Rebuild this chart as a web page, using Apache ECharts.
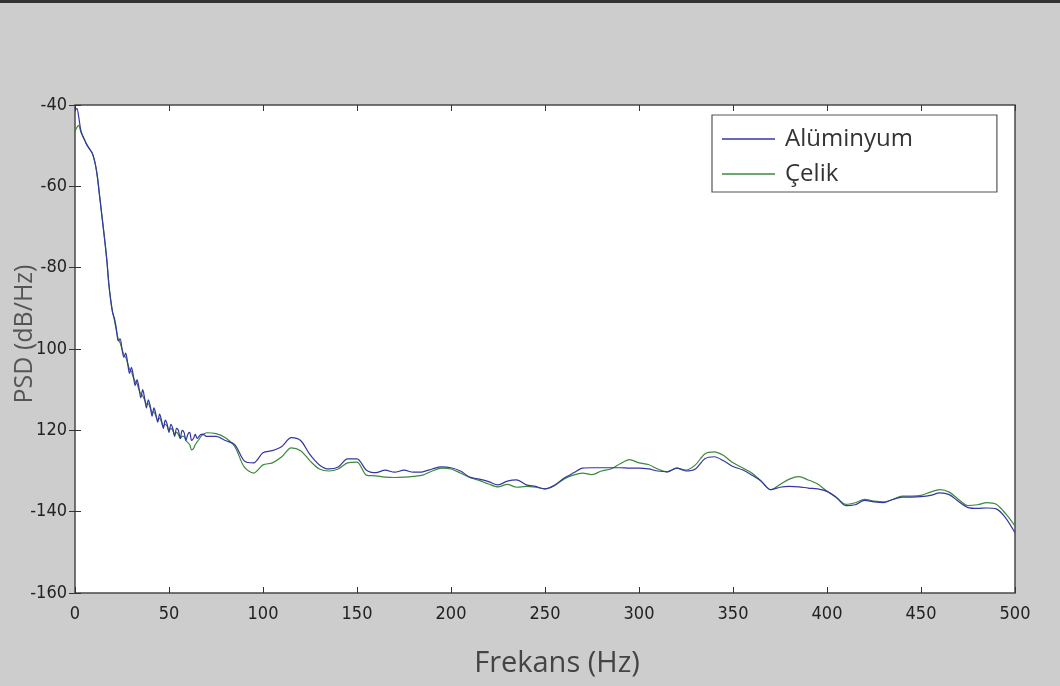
<!DOCTYPE html>
<html><head><meta charset="utf-8">
<script src="https://cdn.jsdelivr.net/npm/echarts@6/dist/echarts.min.js"></script>
<style>html,body{margin:0;padding:0;background:#cdcdcd}#c{width:1060px;height:686px}</style>
</head><body><div id="c"></div>
<script>
const freq = [0,1,2,3,4,5,6,7,8,9,10,11,12,13,14,15,16,17,18,19,20,21,22,23,24,25,26,27,28,29,30,31,32,33,34,35,36,37,38,39,40,41,42,43,44,45,46,47,48,49,50,51,52,53,54,55,56,57,58,59,60,61,62,63,64,65,66,67,68,69,
70,75,80,85,90,95,100,105,110,115,120,125,130,135,140,145,150,155,160,165,170,175,180,185,190,195,200,205,210,215,220,225,230,235,240,245,250,255,260,265,270,275,280,285,290,295,300,305,310,315,320,325,330,335,340,345,350,355,360,365,370,375,380,385,390,395,400,405,410,415,420,425,430,435,440,445,450,455,460,465,470,475,480,485,490,495,500];
const aluminyum = [-41.5,-40.8,-43,-46,-47.5,-48.5,-49.5,-50.3,-51,-51.7,-53,-55,-58,-62,-66,-70,-74,-78.5,-84,-88,-91,-92.5,-95,-98,-97.5,-100,-102,-101,-103.5,-106,-104.5,-106.5,-109,-107.5,-109.5,-112,-110,-112,-114.5,-112.5,-114,-116.5,-114.5,-116,-118,-116,-117.5,-119.5,-117.5,-118.5,-120.5,-118.5,-119.5,-121.5,-119.5,-120,-122,-120,-120.5,-122.5,-121,-120.5,-122.5,-122,-121,-122,-121.5,-121,-121,-121.2,
-121.5,-121.5,-122.5,-123.5,-127.5,-128,-125.5,-125,-124,-121.8,-122.5,-126,-128.5,-129.5,-129,-127,-127,-129.8,-130.4,-129.8,-130.3,-129.8,-130.3,-130.2,-129.5,-129,-129.2,-130,-131.5,-132,-132.6,-133.4,-132.5,-132.2,-133.4,-133.8,-134.4,-133.5,-131.8,-130.5,-129.3,-129.2,-129.2,-129.2,-129.2,-129.3,-129.3,-129.5,-130,-130.2,-129.3,-130,-129.5,-127,-126.5,-127.5,-128.9,-129.7,-131,-132.5,-134.6,-134,-133.8,-133.9,-134.2,-134.4,-135,-136.5,-138.5,-138.3,-137.2,-137.6,-137.8,-137,-136.4,-136.4,-136.3,-136,-135.4,-135.8,-137.5,-139,-139.2,-139.1,-139.3,-141.5,-145.2];
const celik = [-46.5,-45.5,-45,-46.5,-47.5,-48.5,-49.5,-50.3,-51,-51.7,-53,-55,-58,-62,-66,-70,-74,-78.5,-84,-88,-91,-93,-95.5,-97.5,-98.5,-100,-101.5,-102,-103.5,-105,-105.5,-107,-108,-108.5,-110,-111,-111.5,-112.5,-113.5,-113.5,-114.5,-115.5,-115.5,-116.5,-117.5,-117,-118,-119,-118.5,-119,-120,-119.5,-120,-121,-120.5,-121,-122,-121.5,-121.5,-122.5,-123,-123.5,-124.8,-124.5,-123.5,-122.8,-122.2,-121.5,-121,-120.8,
-120.6,-120.8,-121.8,-124,-129,-130.5,-128.5,-128,-126.5,-124.3,-125,-127.5,-129.5,-130,-129.5,-128,-127.8,-131,-131.2,-131.5,-131.6,-131.5,-131.3,-131,-130,-129.3,-129.5,-130.5,-131.6,-132.3,-133.2,-133.9,-133.3,-134,-133.8,-134,-134.4,-133.6,-132,-131,-130.5,-130.9,-130,-129.5,-128.2,-127.2,-128,-128.4,-129.5,-130.2,-129.3,-129.8,-128.5,-125.8,-125.3,-126.2,-128,-129.2,-130.5,-132.5,-134.6,-133.3,-132,-131.4,-132.2,-133.2,-135,-136.5,-138.2,-137.8,-137,-137.4,-137.6,-137,-136.2,-136.2,-136,-135.2,-134.6,-135.2,-137,-138.5,-138.3,-137.8,-138.2,-140.5,-143.5];
const seriesNames = ['Alüminyum','Çelik'];
const xTickLabels = ['0','50','100','150','200','250','300','350','400','450','500'];
const yTickValues = [-160,-140,-120,-100,-80,-60,-40];
const yTickLabels = ['-160','-140','120','100','-80','-60','-40'];

const tickFont = '"DejaVu Sans Condensed","Liberation Sans Narrow",sans-serif';
const textFont = '"Open Sans","Noto Sans",sans-serif';
const chart = echarts.init(document.getElementById('c'));
const pair = (ys) => freq.map((f,i)=>[f,ys[i]]);
chart.setOption({
  backgroundColor:'#cdcdcd',
  animation:false,
  graphic:[{type:'rect',shape:{x:0,y:0,width:1060,height:3},style:{fill:'#333'}}],
  grid:{left:75,right:45,top:105,bottom:93,containLabel:false,outerBoundsMode:'none',show:true,backgroundColor:'#fff',borderColor:'#4a4a4a',borderWidth:1.5},
  legend:{
    data:seriesNames, orient:'vertical', left:712, top:115,
    icon:'rect', itemWidth:53, itemHeight:1.5, itemGap:11,
    backgroundColor:'#fff', borderColor:'#555', borderWidth:1.2,
    padding:[12,84,6,10],
    textStyle:{fontFamily:textFont,fontSize:24,color:'#333',padding:[0,0,0,5]}
  },
  xAxis:[{
    type:'value',min:0,max:500,interval:50,
    name:'Frekans (Hz)',nameLocation:'middle',nameGap:56,nameMoveOverlap:false,
    nameTextStyle:{fontFamily:textFont,fontSize:29,color:'#444',padding:[0,0,0,24]},
    axisLine:{show:false},splitLine:{show:false},
    axisTick:{show:true,inside:true,length:6,lineStyle:{color:'#333'}},
    axisLabel:{margin:12,fontFamily:tickFont,fontSize:18,color:'#222',formatter:(v)=>xTickLabels[Math.round(v/50)]}
  },{
    type:'value',min:0,max:500,interval:50,position:'top',
    axisLine:{show:false},splitLine:{show:false},axisLabel:{show:false},
    axisTick:{show:true,inside:true,length:6,lineStyle:{color:'#333'}}
  }],
  yAxis:[{
    type:'value',min:-160,max:-40,interval:20,
    name:'PSD (dB/Hz)',nameLocation:'middle',nameGap:38,nameMoveOverlap:false,
    nameTextStyle:{fontFamily:textFont,fontSize:25,color:'#555',padding:[0,0,0,30]},
    axisLine:{show:false},splitLine:{show:false},
    axisTick:{show:true,inside:true,length:6,lineStyle:{color:'#333'}},
    axisLabel:{margin:8,fontFamily:tickFont,fontSize:18,color:'#222',formatter:(v)=>{const i=yTickValues.indexOf(v);return i>=0?yTickLabels[i]:'';}}
  },{
    type:'value',min:-160,max:-40,interval:20,position:'right',
    axisLine:{show:false},splitLine:{show:false},axisLabel:{show:false},
    axisTick:{show:true,inside:true,length:6,lineStyle:{color:'#333'}}
  }],
  series:[
    {name:seriesNames[1],type:'line',data:pair(celik),showSymbol:false,smooth:0.3,lineStyle:{width:1.2,color:'#3a8a3a'},itemStyle:{color:'#3a8a3a'}},
    {name:seriesNames[0],type:'line',data:pair(aluminyum),showSymbol:false,smooth:0.3,lineStyle:{width:1.2,color:'#3535a5'},itemStyle:{color:'#3535a5'}}
  ]
});
</script></body></html>
